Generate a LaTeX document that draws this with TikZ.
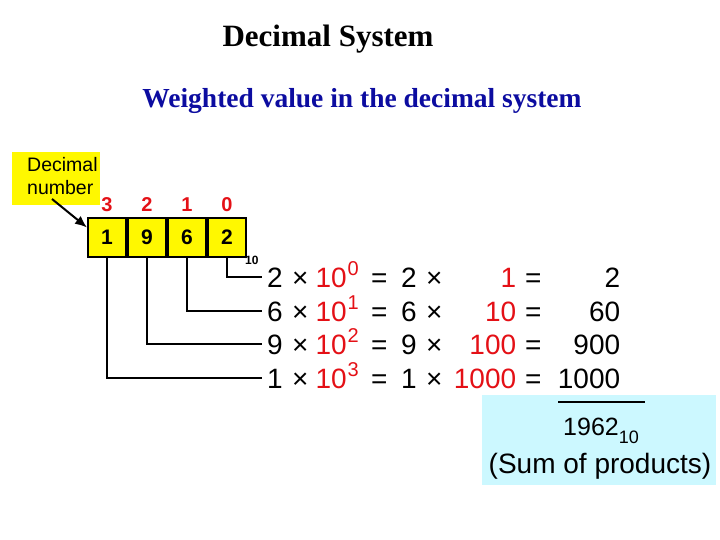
\documentclass[tikz,border=0pt]{standalone}
\usepackage{fontspec}
\setmainfont{Liberation Sans}
\newfontfamily\titlefont{Liberation Serif}
\usetikzlibrary{arrows.meta,positioning}
\definecolor{pwr}{RGB}{228,16,22}
\definecolor{dkblue}{RGB}{12,12,160}
\definecolor{cellyellow}{RGB}{255,248,0}
\definecolor{sumcyan}{RGB}{204,248,255}
\newcommand{\sz}[1]{\fontsize{#1}{#1}\selectfont}
\newcommand{\prodrow}[4]{%
  \makebox[25pt][l]{#1}%
  \makebox[79pt][l]{×\hspace{7pt}\textcolor{pwr}{10\hspace{1pt}\raisebox{12pt}{\sz{20}#2}}}%
  \makebox[30pt][l]{=}%
  \makebox[25pt][l]{#1}%
  \makebox[90pt][l]{×\hfill\textcolor{pwr}{#3}}%
  \makebox[104pt][l]{\hspace{9pt}=\hfill#4}}

\begin{document}
\begin{tikzpicture}[x=1pt,y=-1pt,
  cell/.style={draw,fill=cellyellow,line width=2pt,minimum width=38pt,minimum height=39pt,inner sep=0pt,font=\sz{21}\bfseries},
  wt/.style={text=pwr,inner sep=1pt,font=\sz{20}\bfseries},
  prod/.style={anchor=base west,inner sep=0pt,font=\sz{28}},
  wire/.style={line width=2pt}]
\useasboundingbox (0,0) rectangle (720,540);
\node[anchor=base,font=\titlefont\bfseries\sz{31}] (title) at (328,47) {Decimal System};
\node[anchor=base,text=dkblue,font=\titlefont\bfseries\sz{27.5}] (sub) at (362,108) {Weighted value in the decimal system};
% decimal number label
\fill[cellyellow] (12,152) rectangle (100,205);
\node[anchor=north west,align=left,inner sep=0pt,font=\fontsize{19.5}{23}\selectfont] (dn) at (27,157) {Decimal\\number};
\coordinate (tail) at (52,199);
% digit boxes
\node[cell] (c3) at (107,237.5) {1};
\node[cell,right=0pt of c3] (c2) {9};
\node[cell,right=0pt of c2] (c1) {6};
\node[cell,right=0pt of c1] (c0) {2};
\node[wt,above=4pt of c3] (w3) {3};
\node[wt,above=4pt of c2] (w2) {2};
\node[wt,above=4pt of c1] (w1) {1};
\node[wt,above=4pt of c0] (w0) {0};
\node[anchor=base west,inner sep=0pt,font=\sz{12}\bfseries] (radix) at (245,264) {10};
\draw[line width=2pt,-{Latex[length=12pt,width=10pt]}] (tail) -- ([yshift=10pt]c3.west);
% products
\node[prod] (r0) at (267,287) {\prodrow{2}{0}{1}{2}};
\node[prod] (r1) at (267,321) {\prodrow{6}{1}{10}{60}};
\node[prod] (r2) at (267,354) {\prodrow{9}{2}{100}{900}};
\node[prod] (r3) at (267,388) {\prodrow{1}{3}{1000}{1000}};
\draw[wire] (c0.south) |- ([shift={(-5pt,10pt)}]r0.base west);
\draw[wire] (c1.south) |- ([shift={(-5pt,10pt)}]r1.base west);
\draw[wire] (c2.south) |- ([shift={(-5pt,10pt)}]r2.base west);
\draw[wire] (c3.south) |- ([shift={(-5pt,10pt)}]r3.base west);
% sum
\fill[sumcyan] (482,395) rectangle (716,485);
\draw[wire] (558,402) -- (645,402);
\node[anchor=base west,inner sep=0pt,font=\sz{25}] (total) at (563,435) {1962\raisebox{-8pt}{\sz{18}10}};
\node[anchor=base,inner sep=0pt,font=\sz{28}] (note) at (600,473) {(Sum of products)};
\end{tikzpicture}
\end{document}
